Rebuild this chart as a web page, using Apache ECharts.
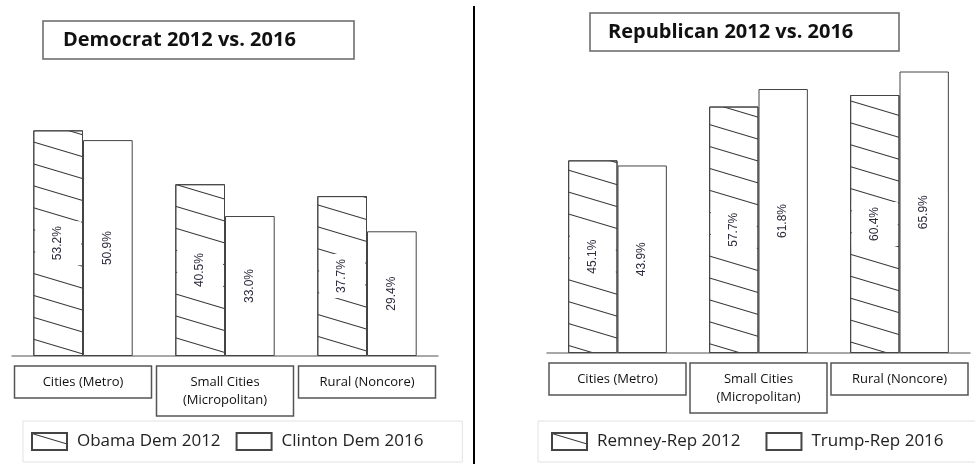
<!DOCTYPE html>
<html>
<head>
<meta charset="utf-8">
<script src="https://cdn.jsdelivr.net/npm/echarts@6/dist/echarts.min.js"></script>
<style>
  html, body { margin: 0; padding: 0; background: #fff; }
  #chart { width: 975px; height: 464px; }
</style>
</head>
<body>
<div id="chart"></div>
<script>
// dữ liệu
const categories = ['Cities (Metro)', 'Small Cities\n(Micropolitan)', 'Rural (Noncore)'];
const obama2012 = [53.2, 40.5, 37.7];
const clinton2016 = [50.9, 33.0, 29.4];
const romney2012 = [45.1, 57.7, 60.4];
const trump2016 = [43.9, 61.8, 65.9];
const titles = ['Democrat 2012 vs. 2016', 'Republican 2012 vs. 2016'];
const seriesNames = ['Obama Dem 2012', 'Clinton Dem 2016', 'Remney-Rep 2012', 'Trump-Rep 2016'];

const chart = echarts.init(document.getElementById('chart'));

// gạch chéo cho cột 2012
const hatch = {
  symbol: 'rect',
  symbolSize: 1,
  color: '#333',
  dashArrayX: [1, 0],
  dashArrayY: [1, 20],
  rotation: 0.29
};

function barLabel() {
  return {
    show: true,
    position: 'inside',
    rotate: 90,
    color: '#2c2c3c',
    fontFamily: 'Liberation Sans',
    fontSize: 12,
    backgroundColor: '#fff',
    padding: [17, 5],
    formatter: p => p.value.toFixed(1) + '%'
  };
}

function makeBar(name, data, idx, hatched) {
  return {
    name: name,
    type: 'bar',
    xAxisIndex: idx,
    yAxisIndex: idx,
    data: data,
    barGap: '0%',
    barCategoryGap: '30%',
    itemStyle: {
      color: '#fff',
      borderColor: '#444',
      borderWidth: 1,
      decal: hatched ? hatch : null
    },
    label: barLabel()
  };
}

function xAxis(idx) {
  return {
    type: 'category',
    gridIndex: idx,
    data: categories,
    axisTick: { show: false },
    axisLine: { lineStyle: { color: '#8c8c8c', width: 1.5 } },
    axisLabel: {
      interval: 0,
      margin: 10,
      color: '#111',
      fontFamily: 'Open Sans',
      fontSize: 13,
      lineHeight: 18,
      width: 127,
      align: 'center',
      borderColor: '#555',
      borderWidth: 1.5,
      padding: [7, 5]
    }
  };
}

function legend(left, names, gap, pad) {
  return {
    left: left,
    top: 421,
    width: 460,
    data: names,
    icon: 'rect',
    itemWidth: 35,
    itemHeight: 17,
    itemGap: gap,
    borderColor: '#e2e2e2',
    borderWidth: 1,
    padding: pad,
    textStyle: { fontFamily: 'Open Sans', fontSize: 17, color: '#222', padding: [0, 0, 0, 5] }
  };
}

const option = {
  animation: false,
  backgroundColor: '#fff',
  title: [
    {
      text: titles[0], left: 43, top: 21,
      borderColor: '#666', borderWidth: 1.5, padding: [9, 58, 9, 20],
      textStyle: { fontFamily: 'Open Sans', fontWeight: 'bold', fontSize: 20, color: '#111' }
    },
    {
      text: titles[1], left: 590, top: 13,
      borderColor: '#666', borderWidth: 1.5, padding: [9, 46, 9, 18],
      textStyle: { fontFamily: 'Open Sans', fontWeight: 'bold', fontSize: 20, color: '#111' }
    }
  ],
  legend: [
    legend(23, seriesNames.slice(0, 2), 15, [11, 39, 11, 8]),
    legend(538, seriesNames.slice(2, 4), 25, [11, 60, 11, 13])
  ],
  grid: [
    { left: 12, width: 426, top: 101.5, height: 254.5 },
    { left: 547, width: 423, top: 54, height: 299 }
  ],
  xAxis: [xAxis(0), xAxis(1)],
  yAxis: [
    { type: 'value', gridIndex: 0, min: 0, max: 60, show: false },
    { type: 'value', gridIndex: 1, min: 0, max: 70, show: false }
  ],
  series: [
    makeBar(seriesNames[0], obama2012, 0, true),
    makeBar(seriesNames[1], clinton2016, 0, false),
    makeBar(seriesNames[2], romney2012, 1, true),
    makeBar(seriesNames[3], trump2016, 1, false)
  ],
  graphic: [{
    type: 'line',
    shape: { x1: 474, y1: 6, x2: 474, y2: 464 },
    style: { stroke: '#000', lineWidth: 2 }
  }]
};

chart.setOption(option);
window.addEventListener('resize', () => chart.resize());
</script>
</body>
</html>
